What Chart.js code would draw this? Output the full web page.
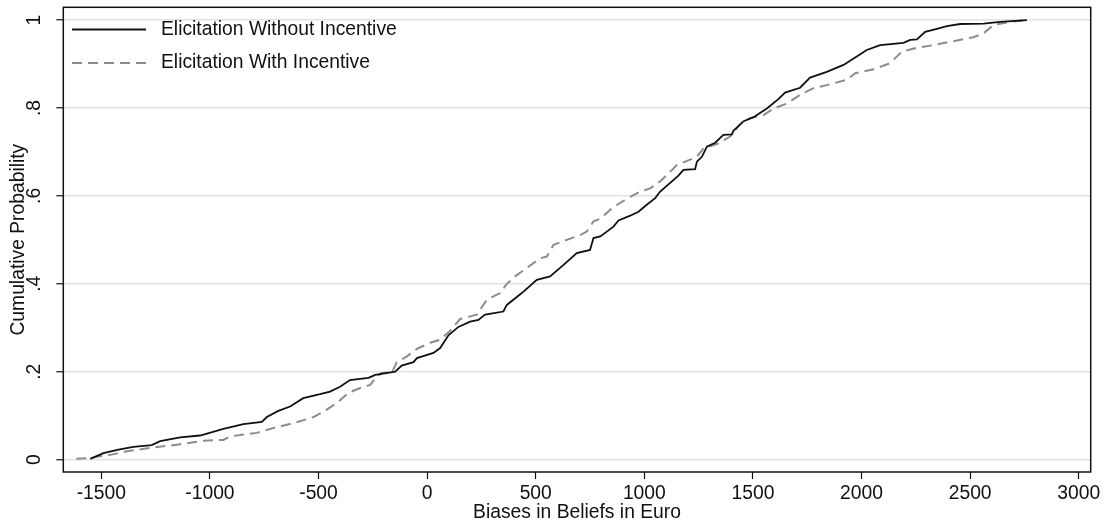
<!DOCTYPE html>
<html>
<head>
<meta charset="utf-8">
<title>Cumulative Probability</title>
<script src="https://cdn.jsdelivr.net/npm/chart.js@4.4.0/dist/chart.umd.min.js"></script>
<style>
    html, body { margin: 0; padding: 0; background: #fff; }
    #wrap { width: 1105px; height: 525px; }
</style>
</head>
<body>
<div id="wrap"><canvas id="cdfChart" width="1105" height="525"></canvas></div>
<script>
// values
const seriesLabels = ['Elicitation Without Incentive', 'Elicitation With Incentive'];

const withoutX = [-1551, -1490, -1421, -1352, -1268, -1229, -1137, -1045, -938, -846, -761, -738, -685, -631, -570, -493, -447, -401, -355, -270, -239, -147, -117, -63, -47, 29, 60, 98, 144, 198, 236, 267, 351, 367, 436, 505, 566, 628, 689, 750, 766, 797, 858, 881, 935, 973, 1011, 1050, 1073, 1157, 1180, 1234, 1242, 1265, 1288, 1326, 1364, 1403, 1410, 1457, 1503, 1564, 1617, 1648, 1717, 1763, 1840, 1917, 1978, 2024, 2086, 2193, 2224, 2255, 2293, 2347, 2393, 2454, 2562, 2638, 2761];
const withoutY = [0.002, 0.015, 0.023, 0.029, 0.033, 0.042, 0.051, 0.055, 0.07, 0.081, 0.086, 0.097, 0.111, 0.121, 0.14, 0.149, 0.155, 0.166, 0.181, 0.186, 0.193, 0.2, 0.214, 0.222, 0.231, 0.243, 0.254, 0.283, 0.302, 0.314, 0.318, 0.33, 0.337, 0.352, 0.379, 0.409, 0.417, 0.443, 0.47, 0.477, 0.504, 0.508, 0.53, 0.544, 0.555, 0.564, 0.58, 0.595, 0.61, 0.646, 0.659, 0.661, 0.678, 0.689, 0.712, 0.721, 0.739, 0.74, 0.748, 0.77, 0.779, 0.799, 0.82, 0.835, 0.846, 0.869, 0.882, 0.898, 0.917, 0.932, 0.943, 0.948, 0.955, 0.956, 0.973, 0.98, 0.986, 0.991, 0.992, 0.996, 1.0];

const withX = [-1615, -1551, -1459, -1383, -1275, -1152, -1030, -938, -907, -784, -708, -616, -523, -462, -416, -362, -308, -262, -232, -209, -160, -140, -93, -47, 14, 60, 104, 152, 198, 229, 275, 336, 367, 405, 459, 520, 551, 582, 643, 704, 735, 766, 797, 858, 935, 981, 1027, 1073, 1150, 1242, 1273, 1334, 1395, 1441, 1487, 1549, 1595, 1656, 1717, 1779, 1840, 1932, 1971, 2055, 2132, 2185, 2255, 2331, 2423, 2515, 2562, 2608, 2684, 2761];
const withY = [0.002, 0.004, 0.011, 0.019, 0.027, 0.034, 0.043, 0.045, 0.053, 0.061, 0.072, 0.083, 0.097, 0.114, 0.129, 0.152, 0.163, 0.17, 0.189, 0.197, 0.2, 0.222, 0.235, 0.252, 0.266, 0.273, 0.292, 0.32, 0.326, 0.33, 0.364, 0.379, 0.4, 0.417, 0.436, 0.458, 0.462, 0.489, 0.5, 0.511, 0.519, 0.542, 0.548, 0.575, 0.598, 0.61, 0.617, 0.633, 0.67, 0.689, 0.708, 0.718, 0.735, 0.763, 0.777, 0.784, 0.799, 0.81, 0.83, 0.845, 0.852, 0.864, 0.879, 0.888, 0.902, 0.928, 0.937, 0.943, 0.952, 0.961, 0.97, 0.989, 0.996, 1.0];

const xTicks = [-1500, -1000, -500, 0, 500, 1000, 1500, 2000, 2500, 3000];
const yTicks = [0, 0.2, 0.4, 0.6, 0.8, 1];

const fontFamily = "'Liberation Sans', Arial, sans-serif";
const fontSize = 19.3;

function toPoints(xs, ys) {
    return xs.map((x, i) => ({ x: x, y: ys[i] }));
}

// box around the plot region, like Stata
const framePlugin = {
    id: 'frame',
    afterDatasetsDraw(chart) {
        const a = chart.chartArea;
        const ctx = chart.ctx;
        ctx.save();
        ctx.strokeStyle = '#111';
        ctx.lineWidth = 1.5;
        ctx.strokeRect(a.left, a.top, a.right - a.left, a.bottom - a.top);
        ctx.restore();
    }
};

// legend inside the plot, top left, no box
const insideLegend = {
    id: 'insideLegend',
    afterDatasetsDraw(chart) {
        const ctx = chart.ctx;
        const rows = [29.5, 63];
        ctx.save();
        chart.data.datasets.forEach((ds, i) => {
            const y = rows[i];
            ctx.strokeStyle = ds.borderColor;
            ctx.lineWidth = ds.borderWidth;
            ctx.setLineDash(ds.borderDash || []);
            ctx.beginPath();
            ctx.moveTo(72, y);
            ctx.lineTo(146, y);
            ctx.stroke();
            ctx.setLineDash([]);
            ctx.fillStyle = '#111';
            ctx.font = fontSize + 'px ' + fontFamily;
            ctx.textBaseline = 'middle';
            ctx.textAlign = 'left';
            ctx.fillText(ds.label, 161, y);
        });
        ctx.restore();
    }
};

function loadCdfChart() {
    const canvas = document.getElementById('cdfChart');

    new Chart(canvas, {
        type: 'line',
        data: {
            datasets: [
                {
                    label: seriesLabels[0],
                    data: toPoints(withoutX, withoutY),
                    borderColor: '#111111',
                    borderWidth: 1.8,
                    pointRadius: 0,
                    tension: 0
                },
                {
                    label: seriesLabels[1],
                    data: toPoints(withX, withY),
                    borderColor: '#8c8c8c',
                    borderWidth: 2,
                    borderDash: [10, 6],
                    pointRadius: 0,
                    tension: 0
                }
            ]
        },
        options: {
            responsive: false,
            animation: false,
            layout: {
                padding: { left: 0, right: 14.3, top: 7.3, bottom: 0 }
            },
            scales: {
                x: {
                    type: 'linear',
                    min: -1675,
                    max: 3055,
                    afterBuildTicks: (scale) => { scale.ticks = xTicks.map(v => ({ value: v })); },
                    afterFit: (scale) => { scale.height = 53; scale.paddingLeft = 0; scale.paddingRight = 0; },
                    border: { display: false },
                    grid: {
                        drawOnChartArea: false,
                        drawTicks: true,
                        tickLength: 7,
                        tickColor: '#111',
                        tickWidth: 1.2
                    },
                    ticks: {
                        color: '#111',
                        padding: 3,
                        maxRotation: 0,
                        font: { family: fontFamily, size: fontSize, lineHeight: 1.2 },
                        callback: (v) => String(v)
                    },
                    title: {
                        display: true,
                        text: 'Biases in Beliefs in Euro',
                        color: '#111',
                        padding: { top: 0, bottom: 0.7 },
                        font: { family: fontFamily, size: fontSize, lineHeight: 1.2 }
                    }
                },
                y: {
                    type: 'linear',
                    min: -0.028,
                    max: 1.029,
                    afterBuildTicks: (scale) => { scale.ticks = yTicks.map(v => ({ value: v })); },
                    afterFit: (scale) => { scale.width = 63.3; scale.paddingTop = 0; scale.paddingBottom = 0; },
                    border: { display: false },
                    grid: {
                        color: '#e2e2e2',
                        lineWidth: 1.5,
                        drawTicks: true,
                        tickLength: 7,
                        tickColor: '#111',
                        tickWidth: 1.2
                    },
                    ticks: {
                        color: '#111',
                        padding: 14,
                        minRotation: 90,
                        maxRotation: 90,
                        crossAlign: 'center',
                        font: { family: fontFamily, size: fontSize, lineHeight: 1.2 },
                        callback: (v) => (v === 0 || v === 1) ? String(v) : String(v).replace('0.', '.')
                    },
                    title: {
                        display: true,
                        text: 'Cumulative Probability',
                        color: '#111',
                        padding: { top: 7, bottom: 0 },
                        font: { family: fontFamily, size: fontSize, lineHeight: 1.2 }
                    }
                }
            },
            plugins: {
                legend: { display: false },
                tooltip: { enabled: false }
            }
        },
        plugins: [framePlugin, insideLegend]
    });
}

loadCdfChart();
</script>
</body>
</html>
